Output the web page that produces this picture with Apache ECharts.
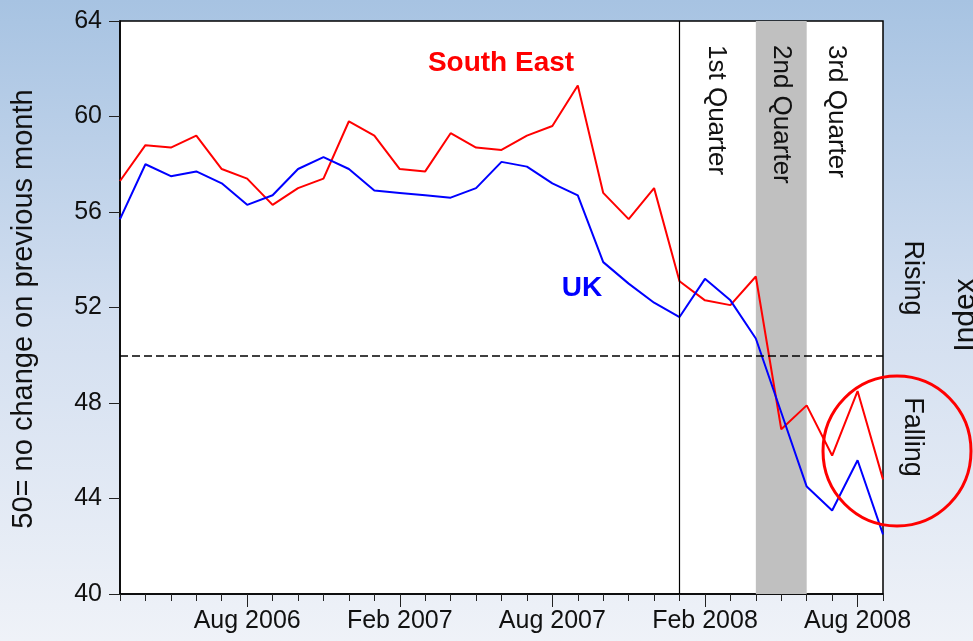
<!DOCTYPE html>
<html>
<head>
<meta charset="UTF-8">
<title>Index - South East vs UK</title>
<script src="https://cdn.jsdelivr.net/npm/echarts@6/dist/echarts.min.js"></script>
<style>
    html, body { margin: 0; padding: 0; }
    #chart { width: 973px; height: 641px; }
</style>
</head>
<body>
<div id="chart"></div>
<script>
// months Mar 2006 .. Sep 2008
var months = [
    'Mar 2006', 'Apr 2006', 'May 2006', 'Jun 2006', 'Jul 2006', 'Aug 2006',
    'Sep 2006', 'Oct 2006', 'Nov 2006', 'Dec 2006', 'Jan 2007', 'Feb 2007',
    'Mar 2007', 'Apr 2007', 'May 2007', 'Jun 2007', 'Jul 2007', 'Aug 2007',
    'Sep 2007', 'Oct 2007', 'Nov 2007', 'Dec 2007', 'Jan 2008', 'Feb 2008',
    'Mar 2008', 'Apr 2008', 'May 2008', 'Jun 2008', 'Jul 2008', 'Aug 2008',
    'Sep 2008'
];
var southEast = [
    57.3, 58.8, 58.7, 59.2, 57.8, 57.4, 56.3, 57.0, 57.4, 59.8, 59.2, 57.8,
    57.7, 59.3, 58.7, 58.6, 59.2, 59.6, 61.3, 56.8, 55.7, 57.0, 53.1, 52.3,
    52.1, 53.3, 46.9, 47.9, 45.8, 48.5, 44.8
];
var uk = [
    55.7, 58.0, 57.5, 57.7, 57.2, 56.3, 56.7, 57.8, 58.3, 57.8, 56.9, 56.8,
    56.7, 56.6, 57.0, 58.1, 57.9, 57.2, 56.7, 53.9, 53.0, 52.2, 51.6, 53.2,
    52.3, 50.7, 47.6, 44.5, 43.5, 45.6, 42.5
];
var yTicks = { min: 40, max: 64, step: 4 };
var neutralLevel = 50;
var quarterStart = 'Jan 2008';
var secondQuarter = ['Apr 2008', 'Jun 2008'];

var FONT = 'Liberation Sans, Arial, sans-serif';
var chart = echarts.init(document.getElementById('chart'));

function isMajor(i) { return i % 6 === 5; }

var option = {
    animation: false,
    backgroundColor: {
        type: 'linear', x: 0, y: 0, x2: 0, y2: 1,
        colorStops: [
            { offset: 0, color: '#a7c3e2' },
            { offset: 0.5, color: '#d3dff0' },
            { offset: 1, color: '#eff2f8' }
        ]
    },
    grid: {
        left: 120, right: 90, top: 21, bottom: 47,
        show: true, backgroundColor: '#ffffff',
        borderColor: '#000', borderWidth: 1.5
    },
    xAxis: [{
        type: 'category',
        data: months,
        boundaryGap: false,
        axisLine: { lineStyle: { color: '#000', width: 1.5 } },
        axisTick: { interval: 0, length: 7, lineStyle: { color: '#222', width: 1 } },
        axisLabel: {
            interval: function (i) { return isMajor(i); },
            fontFamily: FONT, fontSize: 25, color: '#111', margin: 15
        },
        splitLine: { show: false }
    }, {
        type: 'category',
        data: months,
        boundaryGap: false,
        position: 'bottom',
        axisLine: { show: false },
        axisTick: {
            interval: function (i) { return isMajor(i); },
            length: 13, lineStyle: { color: '#222', width: 1 }
        },
        axisLabel: { show: false },
        splitLine: { show: false }
    }],
    yAxis: {
        type: 'value',
        min: yTicks.min, max: yTicks.max, interval: yTicks.step,
        axisLine: { show: true, lineStyle: { color: '#000', width: 1.5 } },
        axisTick: { show: true, length: 11, lineStyle: { color: '#222', width: 1 } },
        axisLabel: { fontFamily: FONT, fontSize: 25, color: '#111', margin: 18 },
        splitLine: { show: false }
    },
    series: [{
        name: 'marks',
        type: 'line',
        data: [],
        z: 1,
        markArea: {
            silent: true,
            itemStyle: { color: '#c0c0c0' },
            data: [[{ xAxis: secondQuarter[0] }, { xAxis: secondQuarter[1] }]]
        },
        markLine: {
            silent: true,
            symbol: 'none',
            label: { show: false },
            data: [
                { xAxis: quarterStart, lineStyle: { color: '#000', width: 1.2, type: 'solid' } },
                { yAxis: neutralLevel, lineStyle: { color: '#000', width: 1.5, type: [8, 4] } }
            ]
        }
    }, {
        name: 'South East',
        type: 'line',
        data: southEast,
        z: 3,
        symbol: 'none',
        lineStyle: { color: '#ff0000', width: 2 }
    }, {
        name: 'UK',
        type: 'line',
        data: uk,
        z: 3,
        symbol: 'none',
        lineStyle: { color: '#0000ff', width: 2 }
    }],
    graphic: [
        // y axis title
        { type: 'text', x: 24, y: 309, rotation: Math.PI / 2,
          style: { text: '50= no change on previous month', fontFamily: FONT, fontSize: 29,
                   fill: '#111', align: 'center', verticalAlign: 'middle' } },
        // series labels
        { type: 'text', x: 501, y: 63, z: 10,
          style: { text: 'South East', fontFamily: FONT, fontSize: 28, fontWeight: 'bold',
                   fill: '#ff0000', align: 'center', verticalAlign: 'middle' } },
        { type: 'text', x: 582, y: 288, z: 10,
          style: { text: 'UK', fontFamily: FONT, fontSize: 28, fontWeight: 'bold',
                   fill: '#0000ff', align: 'center', verticalAlign: 'middle' } },
        // quarter labels
        { type: 'text', x: 716, y: 45, rotation: -Math.PI / 2, z: 10,
          style: { text: '1st Quarter', fontFamily: FONT, fontSize: 26,
                   fill: '#111', align: 'left', verticalAlign: 'middle' } },
        { type: 'text', x: 781, y: 45, rotation: -Math.PI / 2, z: 10,
          style: { text: '2nd Quarter', fontFamily: FONT, fontSize: 26,
                   fill: '#111', align: 'left', verticalAlign: 'middle' } },
        { type: 'text', x: 836, y: 45, rotation: -Math.PI / 2, z: 10,
          style: { text: '3rd Quarter', fontFamily: FONT, fontSize: 26,
                   fill: '#111', align: 'left', verticalAlign: 'middle' } },
        // right side
        { type: 'text', x: 912, y: 278, rotation: -Math.PI / 2,
          style: { text: 'Rising', fontFamily: FONT, fontSize: 27,
                   fill: '#111', align: 'center', verticalAlign: 'middle' } },
        { type: 'text', x: 912, y: 437, rotation: -Math.PI / 2,
          style: { text: 'Falling', fontFamily: FONT, fontSize: 27,
                   fill: '#111', align: 'center', verticalAlign: 'middle' } },
        { type: 'text', x: 966, y: 315, rotation: Math.PI / 2,
          style: { text: 'Index', fontFamily: FONT, fontSize: 30,
                   fill: '#111', align: 'center', verticalAlign: 'middle' } },
        // highlight circle
        { type: 'ellipse', z: 20, silent: true,
          shape: { cx: 897, cy: 451, rx: 74, ry: 75 },
          style: { fill: null, stroke: '#ff0000', lineWidth: 3 } }
    ]
};

chart.setOption(option);
</script>
</body>
</html>
